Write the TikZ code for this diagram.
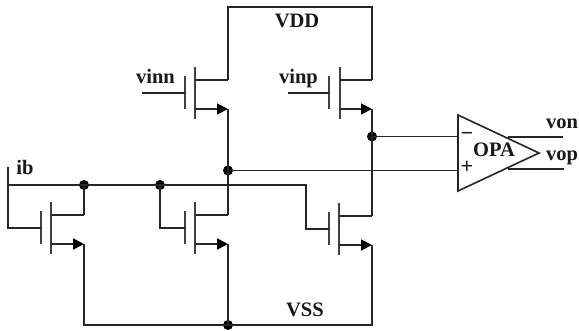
\documentclass[tikz,border=0pt]{standalone}
\usepackage{fontspec}
\setmainfont{Liberation Serif}
\usetikzlibrary{arrows.meta}
\tikzset{
  wire/.style={line width=1.8pt,draw=black!85},
  plate/.style={line width=2pt,draw=black!75},
  src/.style={wire,-{Triangle[length=11pt,width=11pt,color=black]}},
  junction/.style={circle,fill=black,inner sep=0pt,minimum size=10pt},
  lbl/.style={font=\bfseries\fontsize{20.5}{20.5}\selectfont,inner sep=0pt,anchor=base,text=black!90},
  sgn/.style={font=\bfseries\fontsize{22}{22}\selectfont,inner sep=0pt,anchor=center,text=black!90},
  opamp/.style={line width=1.6pt,draw=black!85,fill=none,line join=miter}
}
% #1 name, #2 x of gate plate, #3 y of drain stub, #4 x of the rail
\newcommand{\mosdev}[4]{%
  \coordinate (#1-d0) at (#2+10.5,#3);
  \coordinate (#1-s0) at (#2+10.5,#3+29);
  \coordinate (#1-d) at (#4,#3);
  \coordinate (#1-s) at (#4,#3+29);
  \coordinate (#1-g) at (#2,#3+13);
  \draw[plate] (#2,#3-4) -- (#2,#3+29);
  \draw[plate] (#2+10.5,#3-13) -- (#2+10.5,#3+39);
  \draw[wire] (#1-d0) -- (#1-d);
  \draw[src] (#1-s0) -- (#1-s);
}
\begin{document}
\begin{tikzpicture}[x=1pt,y=-1pt]
\useasboundingbox (0,0) rectangle (579,331);
\fill[white] (0,0) rectangle (579,331);

\mosdev{ml}{184.5}{80}{228}
\mosdev{mr}{329}{80}{372}
\mosdev{b1}{40.5}{215}{84}
\mosdev{b2}{184.5}{215}{228}
\mosdev{b3}{328.5}{216}{372}

\node[junction] (jl) at (228,170.5) {};
\node[junction] (jr) at (372,136.5) {};
\node[junction] (j1) at (84,185) {};
\node[junction] (j2) at (160,185) {};
\node[junction] (jb) at (228,325) {};

\coordinate (ibtop) at (8,167);
\coordinate (ibh) at (8,185);
\coordinate (ibg) at (8,228);
\coordinate (g3c) at (306,185);
\coordinate (g3d) at (306,229);
\coordinate (g2d) at (160,228);
\coordinate (bl) at (84,325);
\coordinate (br) at (372,325);
\coordinate (tl) at (228,7);
\coordinate (tr) at (372,7);
\coordinate (vinnin) at (142,93);
\coordinate (vinpin) at (288,93);

% supply
\draw[wire] (ml-d) -- (tl) -- (tr) -- (mr-d);
\draw[wire] (vinnin) -- (ml-g);
\draw[wire] (vinpin) -- (mr-g);
% tail and outputs
\draw[wire] (ml-s) -- (jl.center);
\draw[wire] (jl.center) -- (b2-d);
\draw[wire] (mr-s) -- (b3-d);
% bias
\draw[wire] (ibtop) -- (ibg) -- (b1-g);
\draw[wire] (ibh) -- (j1.center) -- (j2.center) -- (g3c) -- (g3d) -- (b3-g);
\draw[wire] (j1.center) -- (b1-d);
\draw[wire] (j2.center) -- (g2d) -- (b2-g);
% VSS
\draw[wire] (b1-s) -- (bl) -- (br) -- (b3-s);
\draw[wire] (b2-s) -- (jb.center);

% op amp
\coordinate (oa1) at (458,115);
\coordinate (oa2) at (458,191);
\coordinate (oa3) at (539,153);
\draw[opamp] (oa1) -- (oa3) -- (oa2) -- cycle;
\coordinate (inm) at (458,136.5);
\coordinate (inp) at (458,170.5);
\coordinate (ot) at (508,137);
\coordinate (ote) at (563,137);
\coordinate (ob) at (508,169);
\coordinate (obe) at (564,169);
\draw[wire] (jr.center) -- (inm);
\draw[wire] (jl.center) -- (inp);
\draw[wire] (ot) -- (ote);
\draw[wire] (ob) -- (obe);

\node[lbl] (tvdd) at (297,28) {VDD};
\node[lbl] (tvss) at (305,317) {VSS};
\node[lbl] (tvinn) at (155.5,84) {vinn};
\node[lbl] (tvinp) at (298.5,84) {vinp};
\node[lbl] (tib) at (25,175) {ib};
\node[lbl] (topa) at (494,157) {OPA};
\node[lbl] (tvon) at (562,129) {von};
\node[lbl] (tvop) at (562,161) {vop};
\node[sgn] (tminus) at (467,136) {−};
\node[sgn] (tplus) at (467,167) {+};
\end{tikzpicture}
\end{document}
